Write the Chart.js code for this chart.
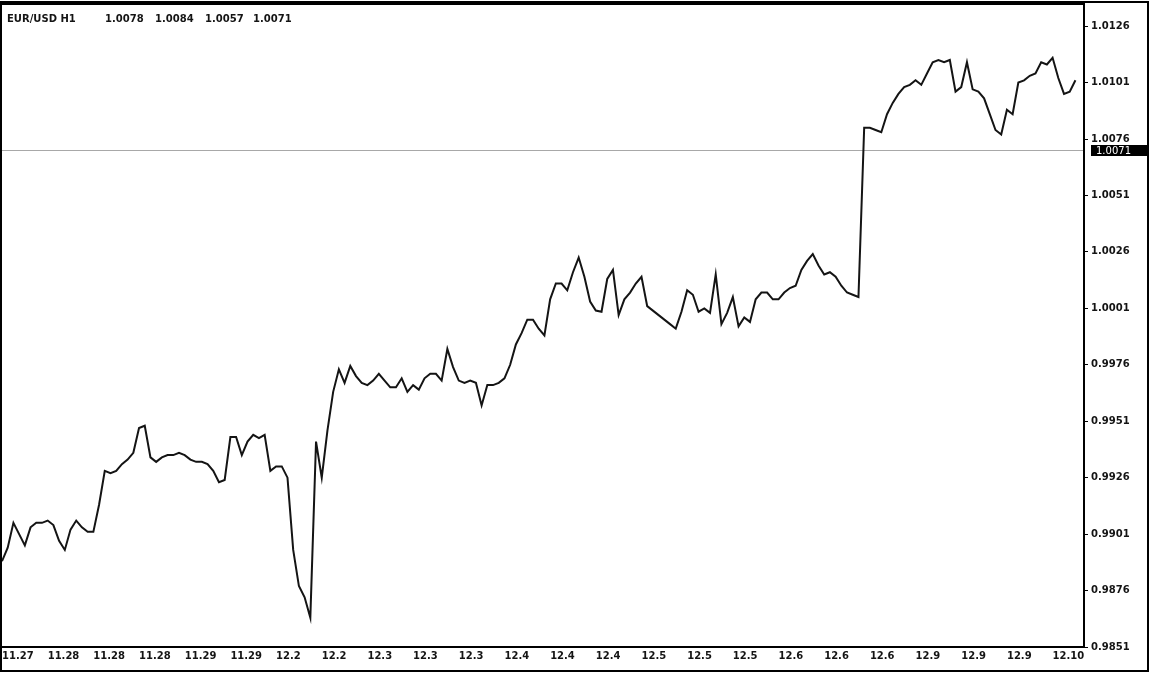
<!DOCTYPE html>
<html>
<head>
<meta charset="utf-8">
<title>EUR/USD H1</title>
<script src="https://cdn.jsdelivr.net/npm/chart.js@4"></script>
<style>
  html, body { margin: 0; padding: 0; background: #fff; }
  #wrap { width: 1150px; height: 673px; }
</style>
</head>
<body>
<div id="wrap"><canvas id="chart-eurusd" width="1150" height="673"></canvas></div>
<script>
/* EUR/USD hourly close line, MetaTrader style. */

const SYMBOL = "EUR/USD H1";
const HEADER_OHLC = [1.0078, 1.0084, 1.0057, 1.0071];
const LAST_PRICE = 1.0071;
const BARS_PER_LABEL = 8;

const DATE_LABELS = [
  "11.27", "11.28", "11.28", "11.28", "11.29", "11.29", "12.2", "12.2",
  "12.3", "12.3", "12.3", "12.4", "12.4", "12.4", "12.5", "12.5",
  "12.5", "12.6", "12.6", "12.6", "12.9", "12.9", "12.9", "12.10",
];

const PRICE_TICKS = [
  0.9851, 0.9876, 0.9901, 0.9926, 0.9951, 0.9976,
  1.0001, 1.0026, 1.0051, 1.0076, 1.0101, 1.0126,
];

// hourly closes
const CLOSES = [
  0.9889, 0.9895, 0.9906, 0.9901, 0.9896, 0.9904, 0.9906, 0.9906, 0.9907, 0.9905,
  0.9898, 0.9894, 0.9903, 0.9907, 0.9904, 0.9902, 0.9902, 0.9914, 0.9929, 0.9928,
  0.9929, 0.9932, 0.9934, 0.9937, 0.9948, 0.9949, 0.9935, 0.9933, 0.9935, 0.9936,
  0.9936, 0.9937, 0.9936, 0.9934, 0.9933, 0.9933, 0.9932, 0.9929, 0.9924, 0.9925,
  0.9944, 0.9944, 0.9936, 0.9942, 0.9945, 0.99435, 0.9945, 0.9929, 0.9931, 0.9931,
  0.9926, 0.9894, 0.9878, 0.9873, 0.9864, 0.9942, 0.9926, 0.9947, 0.9964, 0.9974,
  0.9968, 0.99755, 0.9971, 0.9968, 0.9967, 0.9969, 0.9972, 0.9969, 0.9966, 0.9966,
  0.9970, 0.9964, 0.9967, 0.9965, 0.9970, 0.9972, 0.9972, 0.9969, 0.9983, 0.9975,
  0.9969, 0.9968, 0.9969, 0.9968, 0.9958, 0.9967, 0.9967, 0.9968, 0.9970, 0.9976,
  0.9985, 0.9990, 0.9996, 0.9996, 0.9992, 0.9989, 1.0005, 1.0012, 1.0012, 1.0009,
  1.0017, 1.00235, 1.0015, 1.0004, 1.0000, 0.99995, 1.0014, 1.0018, 0.9998, 1.0005,
  1.0008, 1.0012, 1.0015, 1.0002, 1.0000, 0.9998, 0.9996, 0.9994, 0.9992, 0.99995,
  1.0009, 1.0007, 0.99995, 1.0001, 0.9999, 1.0016, 0.9994, 0.9999, 1.0006, 0.9993,
  0.9997, 0.9995, 1.0005, 1.0008, 1.0008, 1.0005, 1.0005, 1.0008, 1.0010, 1.0011,
  1.0018, 1.0022, 1.0025, 1.0020, 1.0016, 1.0017, 1.0015, 1.0011, 1.0008, 1.0007,
  1.0006, 1.0081, 1.0081, 1.0080, 1.0079, 1.0087, 1.0092, 1.0096, 1.0099, 1.0100,
  1.0102, 1.0100, 1.0105, 1.0110, 1.0111, 1.0110, 1.0111, 1.0097, 1.0099, 1.0110,
  1.0098, 1.0097, 1.0094, 1.0087, 1.0080, 1.0078, 1.0089, 1.0087, 1.0101, 1.0102,
  1.0104, 1.0105, 1.0110, 1.0109, 1.0112, 1.0103, 1.0096, 1.0097, 1.0102,
];

const FONT = { family: "'DejaVu Sans', Verdana, sans-serif", size: 10, weight: "bold" };
const INK = "#141414";

// price line under the series, frame, header and price box on top
const mtPlugin = {
  id: "mtDecor",
  beforeDatasetsDraw(chart) {
    const { ctx, chartArea: a } = chart;
    const py = Math.round(chart.scales.y.getPixelForValue(LAST_PRICE)) + 0.5;
    ctx.save();
    ctx.strokeStyle = "#a8a8a8";
    ctx.lineWidth = 1;
    ctx.beginPath();
    ctx.moveTo(0, py);
    ctx.lineTo(a.right, py);
    ctx.stroke();
    ctx.restore();
  },
  afterDraw(chart) {
    const { ctx, chartArea: a, width, height } = chart;
    ctx.save();
    ctx.strokeStyle = "#000";
    ctx.lineWidth = 2;
    // outer frame
    ctx.strokeRect(1, 2, width - 3, height - 4);
    // plot frame
    ctx.beginPath();
    ctx.moveTo(0, a.top);
    ctx.lineTo(a.right, a.top);
    ctx.lineTo(a.right, a.bottom);
    ctx.lineTo(0, a.bottom);
    ctx.stroke();

    // header
    ctx.fillStyle = INK;
    ctx.font = `${FONT.weight} ${FONT.size}px ${FONT.family}`;
    ctx.textBaseline = "middle";
    ctx.textAlign = "left";
    ctx.fillText(SYMBOL, 7, 19);
    const xs = [105, 155, 205, 253];
    HEADER_OHLC.forEach((v, i) => ctx.fillText(v.toFixed(4), xs[i], 19));

    // current price box
    const py = chart.scales.y.getPixelForValue(LAST_PRICE);
    ctx.fillStyle = "#000";
    ctx.fillRect(a.right + 7, Math.round(py) - 5, 56, 11);
    ctx.fillStyle = "#fff";
    ctx.font = `normal ${FONT.size}px ${FONT.family}`;
    ctx.fillText(LAST_PRICE.toFixed(4), a.right + 12, Math.round(py) + 1);
    ctx.restore();
  },
};

const points = CLOSES.map((c, i) => ({ x: i, y: c }));

new Chart(document.getElementById("chart-eurusd"), {
  type: "line",
  data: {
    datasets: [{
      data: points,
      borderColor: INK,
      borderWidth: 2,
      pointRadius: 0,
      tension: 0,
      fill: false,
    }],
  },
  options: {
    responsive: false,
    animation: false,
    layout: { padding: { left: 2, top: 4, right: 4, bottom: 3 } },
    plugins: { legend: { display: false }, tooltip: { enabled: false } },
    scales: {
      x: {
        type: "linear",
        min: 0,
        max: 189.5,
        afterBuildTicks: (s) => {
          s.ticks = DATE_LABELS.map((_, k) => ({ value: k * BARS_PER_LABEL }));
        },
        afterFit: (s) => { s.height = 23; s.paddingLeft = 0; s.paddingRight = 0; },
        grid: { display: false, drawTicks: false },
        border: { display: false },
        ticks: {
          autoSkip: false,
          maxRotation: 0,
          align: "start",
          padding: 3,
          color: INK,
          font: FONT,
          callback: (v) => DATE_LABELS[Math.round(v / BARS_PER_LABEL)],
        },
      },
      y: {
        position: "right",
        min: 0.9851,
        max: 1.01358,
        afterBuildTicks: (s) => { s.ticks = PRICE_TICKS.map((v) => ({ value: v })); },
        afterFit: (s) => { s.width = 62; s.paddingTop = 0; s.paddingBottom = 0; },
        grid: { drawOnChartArea: false, drawTicks: true, tickLength: 4, color: "#000" },
        border: { display: false },
        ticks: {
          padding: 3,
          color: INK,
          font: FONT,
          callback: (v) => v.toFixed(4),
        },
      },
    },
  },
  plugins: [mtPlugin],
});
</script>
</body>
</html>
